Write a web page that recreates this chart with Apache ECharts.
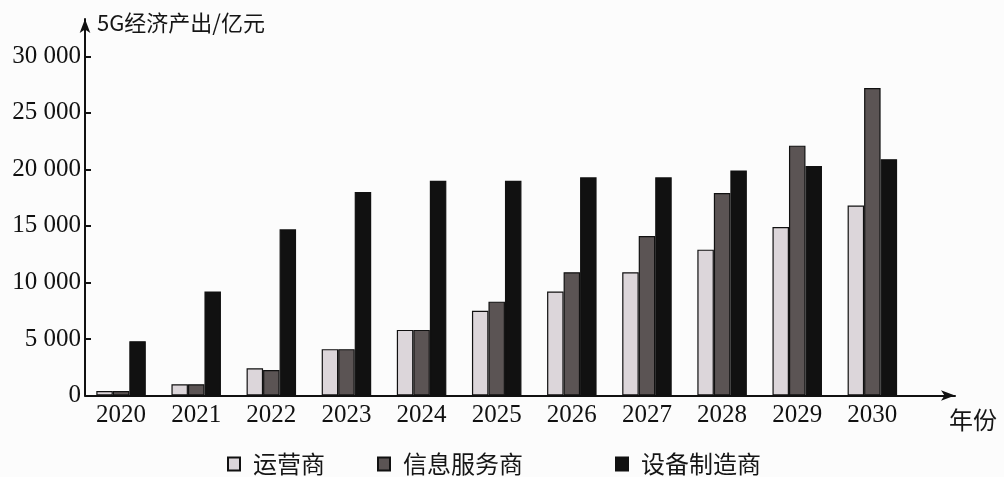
<!DOCTYPE html>
<html>
<head>
<meta charset="utf-8">
<script src="https://cdn.jsdelivr.net/npm/echarts@6/dist/echarts.min.js"></script>
<style>
html,body{margin:0;padding:0;background:#fcfcfc;}
#chart{width:1004px;height:477px;}
</style>
</head>
<body>
<div id="chart"></div>
<script>
var years = [2020, 2021, 2022, 2023, 2024, 2025, 2026, 2027, 2028, 2029, 2030];
var seriesNames = ['运营商', '信息服务商', '设备制造商'];
var operators = [400, 1000, 2400, 4100, 5800, 7500, 9200, 10900, 12900, 14900, 16800];
var infoService = [400, 1000, 2250, 4100, 5800, 8300, 10900, 14100, 17900, 22100, 27200];
var equipment = [4800, 9200, 14700, 18000, 19000, 19000, 19300, 19300, 19900, 20300, 20900];
var yTicks = [0, 5000, 10000, 15000, 20000, 25000, 30000];
var yAxisName = '5G经济产出/亿元';
var xAxisName = '年份';

function pairs(vals) { return years.map(function (y, i) { return [y, vals[i]]; }); }
function fmtThousands(v) {
  var s = String(v);
  if (s.length > 3) s = s.slice(0, s.length - 3) + ' ' + s.slice(s.length - 3);
  return s;
}

var serifFont = '"Liberation Serif", "DejaVu Serif", serif';
var cjkFont = '"Noto Sans CJK SC", sans-serif';
var colors = ['#dcd6da', '#5b5454', '#111111'];

var chart = echarts.init(document.getElementById('chart'), null, {renderer: 'canvas'});
var baseBar = {
  type: 'bar',
  barWidth: 16.5,
  barGap: '0%',
  animation: false
};
var valuesList = [operators, infoService, equipment];
var series = seriesNames.map(function (n, i) {
  return Object.assign({}, baseBar, {
    name: n,
    data: pairs(valuesList[i]),
    itemStyle: {color: colors[i], borderColor: '#111', borderWidth: 1.2}
  });
});
var legendLefts = [222, 372, 610];
var legends = seriesNames.map(function (n, i) {
  return {
    data: [n],
    left: legendLefts[i],
    top: 447,
    icon: 'rect',
    itemWidth: 12,
    itemHeight: 13,
    textStyle: {fontFamily: cjkFont, fontSize: 24, color: '#151515', padding: [0, 0, 0, 8]},
    selectedMode: false
  };
});

chart.setOption({
  backgroundColor: '#fcfcfc',
  animation: false,
  legend: legends,
  grid: {left: 85, right: 49, top: 19, bottom: 81.5, containLabel: false},
  xAxis: {
    type: 'value',
    min: 2019.52,
    max: 2031.1,
    splitLine: {show: false},
    axisLine: {show: true, lineStyle: {color: '#111', width: 2}, symbol: ['none', 'arrow'], symbolSize: [8, 14]},
    axisTick: {show: false},
    axisLabel: {
      customValues: years,
      formatter: function (v) { return String(v); },
      fontFamily: serifFont, fontSize: 25, color: '#111', margin: 7
    },
    name: xAxisName,
    nameLocation: 'end',
    nameGap: -6,
    nameTextStyle: {fontFamily: cjkFont, fontSize: 24, color: '#151515', align: 'left', verticalAlign: 'top', padding: [12, 0, 0, 0]}
  },
  yAxis: {
    type: 'value',
    min: 0,
    max: 33300,
    splitLine: {show: false},
    axisLine: {show: true, lineStyle: {color: '#111', width: 2}, symbol: ['none', 'arrow'], symbolSize: [8, 14]},
    axisTick: {show: true, inside: true, length: 6, customValues: yTicks, lineStyle: {color: '#111', width: 2}},
    axisLabel: {
      customValues: yTicks,
      formatter: function (v) { return fmtThousands(v); },
      fontFamily: serifFont, fontSize: 25, color: '#111', margin: 4
    },
    name: yAxisName,
    nameLocation: 'end',
    nameGap: -4,
    nameTextStyle: {fontFamily: cjkFont, fontSize: 22, color: '#151515', align: 'left', verticalAlign: 'middle', padding: [0, 0, 0, 12]}
  },
  series: series
});
</script>
</body>
</html>
